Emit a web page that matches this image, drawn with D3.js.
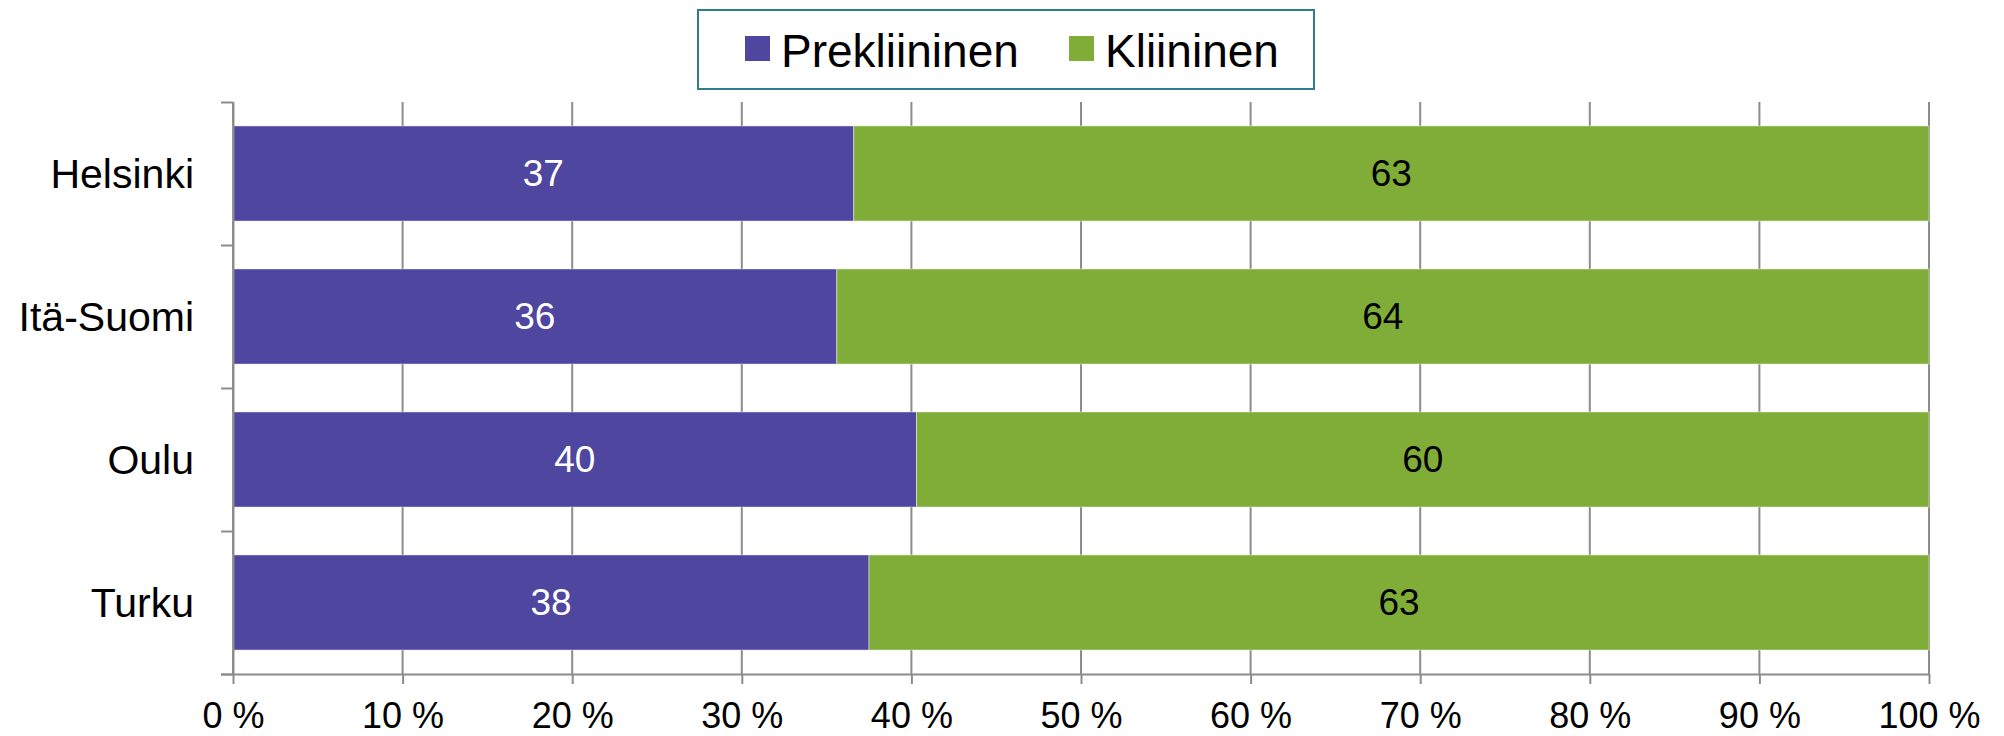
<!DOCTYPE html>
<html>
<head>
<meta charset="utf-8">
<script src="https://cdn.jsdelivr.net/npm/d3@7"></script>
<style>
  body { margin: 0; background: #fff; }
  svg { display: block; font-family: Arial, "Liberation Sans", sans-serif; }
</style>
</head>
<body>
<svg id="chart"></svg>
<script>
// Chart data
const regions = ["Helsinki", "Itä-Suomi", "Oulu", "Turku"];
const series = ["Prekliininen", "Kliininen"];
const prekliininen = [36.6, 35.6, 40.3, 37.5];
const kliininen = [63.4, 64.4, 59.7, 62.5];
const xTicks = [0, 10, 20, 30, 40, 50, 60, 70, 80, 90, 100];

const colors = { Prekliininen: "#4f46a0", Kliininen: "#80ad37" };

// Dimensions
const W = 2004, H = 736;
const margin = { top: 102, right: 75, bottom: 62, left: 233 };
const width = W - margin.left - margin.right;
const height = H - margin.top - margin.bottom;

const svg = d3.select("#chart").attr("width", W).attr("height", H);
const g = svg.append("g").attr("transform", `translate(${margin.left},${margin.top})`);

const rows = regions.map((r, i) => ({ region: r, Prekliininen: prekliininen[i], Kliininen: kliininen[i] }));
const stacked = d3.stack().keys(series)(rows);

// Scales
const x = d3.scaleLinear().domain([0, 100]).range([0, width]);
const y = d3.scaleBand().domain(regions).range([0, height]).paddingInner(0.335).paddingOuter(0.1675);
const yEdges = d3.scaleLinear().domain([0, regions.length]).range([0, height]);

// Vertical gridlines
g.append("g")
    .selectAll("line")
    .data(xTicks)
    .join("line")
    .attr("x1", d => x(d)).attr("x2", d => x(d))
    .attr("y1", 0).attr("y2", height)
    .attr("stroke", "#8c8c8c")
    .attr("stroke-width", 2);

// Bars
const layer = g.selectAll(".layer")
    .data(stacked)
    .join("g")
    .attr("class", "layer")
    .attr("fill", d => colors[d.key]);

layer.selectAll("rect")
    .data(d => d)
    .join("rect")
    .attr("x", d => x(d[0]))
    .attr("width", d => x(d[1]) - x(d[0]))
    .attr("y", d => y(d.data.region))
    .attr("height", y.bandwidth())
    .attr("stroke", "rgba(255,255,255,0.45)")
    .attr("stroke-width", 1);

// Value labels
layer.selectAll("text")
    .data(d => d.map(v => ({ v, key: d.key })))
    .join("text")
    .attr("x", d => (x(d.v[0]) + x(d.v[1])) / 2)
    .attr("y", d => y(d.v.data.region) + y.bandwidth() / 2)
    .attr("dy", "0.35em")
    .attr("text-anchor", "middle")
    .attr("font-size", 37)
    .attr("fill", d => d.key === "Prekliininen" ? "#ffffff" : "#000000")
    .text(d => Math.round(d.v.data[d.key]));

// X axis
const xAxis = g.append("g")
    .attr("transform", `translate(0,${height})`)
    .call(d3.axisBottom(x).tickValues(xTicks).tickSize(10).tickSizeOuter(0).tickFormat(d => d + " %"));
xAxis.select(".domain").attr("stroke", "#8c8c8c").attr("stroke-width", 2).attr("d", `M-12,0.5H${width}`);
xAxis.selectAll(".tick line").attr("stroke", "#8c8c8c").attr("stroke-width", 2);
xAxis.selectAll(".tick text")
    .attr("font-size", 36)
    .attr("fill", "#000")
    .attr("y", 28)
    .attr("dy", "0.71em")
    .attr("font-family", "Arial, 'Liberation Sans', sans-serif");

// Y axis (ticks at category boundaries)
const yAxis = g.append("g")
    .call(d3.axisLeft(yEdges).ticks(regions.length).tickSize(12).tickSizeOuter(0).tickFormat(""));
yAxis.select(".domain").attr("stroke", "#8c8c8c").attr("stroke-width", 2);
yAxis.selectAll(".tick line").attr("stroke", "#8c8c8c").attr("stroke-width", 2);

// Category labels
g.append("g")
    .selectAll("text")
    .data(regions)
    .join("text")
    .attr("x", -39)
    .attr("y", d => y(d) + y.bandwidth() / 2)
    .attr("dy", "0.36em")
    .attr("text-anchor", "end")
    .attr("font-size", 41)
    .attr("fill", "#000")
    .text(d => d);

// Legend
const legend = svg.append("g").attr("transform", "translate(698,10)");
legend.append("rect")
    .attr("x", 0).attr("y", 0)
    .attr("width", 616).attr("height", 79)
    .attr("fill", "#fff")
    .attr("stroke", "#2f7d89")
    .attr("stroke-width", 2);

const legendX = [47, 371];
const items = legend.selectAll(".item")
    .data(series)
    .join("g")
    .attr("class", "item")
    .attr("transform", (d, i) => `translate(${legendX[i]},0)`);
items.append("rect")
    .attr("x", 0).attr("y", 26)
    .attr("width", 25).attr("height", 25)
    .attr("fill", d => colors[d]);
items.append("text")
    .attr("x", 36)
    .attr("y", 40)
    .attr("dy", "0.36em")
    .attr("font-size", 46)
    .attr("fill", "#000")
    .text(d => d);
</script>
</body>
</html>
